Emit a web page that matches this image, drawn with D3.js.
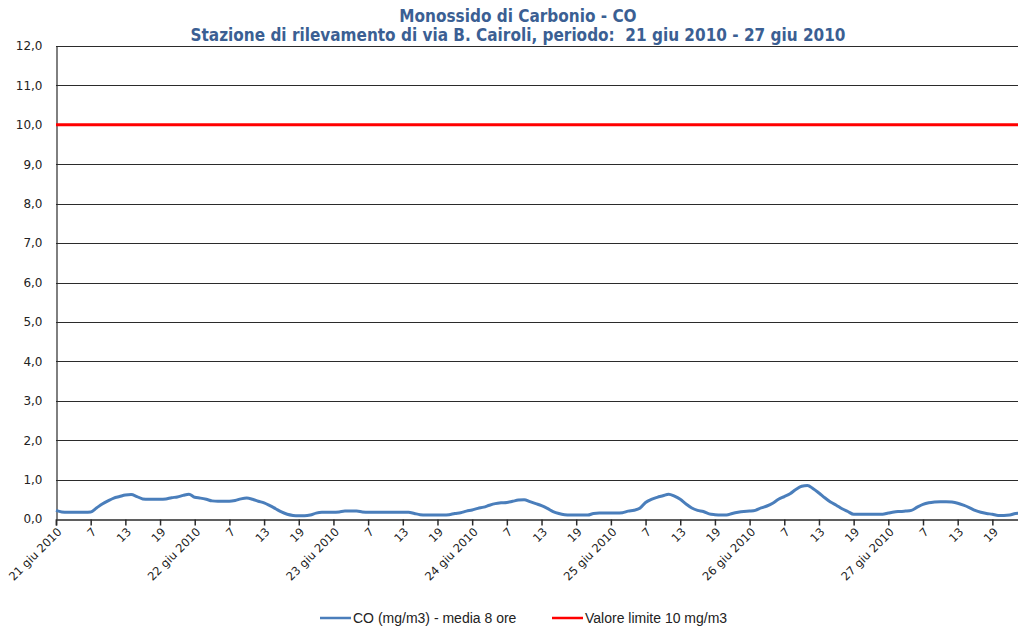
<!DOCTYPE html>
<html>
<head>
<meta charset="utf-8">
<script src="https://cdn.jsdelivr.net/npm/d3@7"></script>
<style>
  body { margin: 0; background: #fff; }
  svg { display: block; }
</style>
</head>
<body>
<div id="main"></div>
<script>
// titolo
const titleLines = ['Monossido di Carbonio - CO',
  'Stazione di rilevamento di via B. Cairoli, periodo:  21 giu 2010 - 27 giu 2010'];

// media mobile 8 ore, un valore per ora (h1 = 21 giu ore 1)
const coValues = [
  0.22, 0.18, 0.17, 0.17, 0.17, 0.17, 0.18, 0.28, 0.38, 0.46, 0.53, 0.57,
  0.61, 0.62, 0.57, 0.51, 0.50, 0.50, 0.50, 0.51, 0.54, 0.56, 0.60, 0.63,
  0.55, 0.53, 0.50, 0.46, 0.45, 0.45, 0.45, 0.47, 0.51, 0.53, 0.50, 0.45,
  0.41, 0.34, 0.26, 0.18, 0.12, 0.09, 0.08, 0.08, 0.10, 0.15, 0.17, 0.17,
  0.17, 0.18, 0.20, 0.20, 0.20, 0.18, 0.17, 0.17, 0.17, 0.17, 0.17, 0.17,
  0.17, 0.17, 0.14, 0.11, 0.10, 0.10, 0.10, 0.10, 0.11, 0.14, 0.16, 0.20,
  0.23, 0.27, 0.30, 0.35, 0.39, 0.41, 0.42, 0.45, 0.48, 0.49, 0.44, 0.39,
  0.34, 0.27, 0.19, 0.14, 0.11, 0.10, 0.10, 0.10, 0.10, 0.14, 0.15, 0.15,
  0.15, 0.15, 0.16, 0.20, 0.22, 0.27, 0.42, 0.50, 0.55, 0.59, 0.63, 0.58,
  0.50, 0.38, 0.28, 0.22, 0.19, 0.13, 0.11, 0.10, 0.10, 0.14, 0.17, 0.19,
  0.20, 0.22, 0.28, 0.33, 0.40, 0.50, 0.57, 0.64, 0.75, 0.83, 0.85, 0.77,
  0.66, 0.54, 0.43, 0.35, 0.26, 0.19, 0.12, 0.12, 0.12, 0.12, 0.12, 0.12,
  0.15, 0.18, 0.19, 0.20, 0.22, 0.30, 0.37, 0.41, 0.43, 0.44, 0.44, 0.43,
  0.40, 0.35, 0.29, 0.22, 0.17, 0.14, 0.12, 0.09, 0.09, 0.10, 0.14, 0.15
];
const limitValue = 10;
const dayLabels = ['21 giu 2010', '22 giu 2010', '23 giu 2010', '24 giu 2010',
  '25 giu 2010', '26 giu 2010', '27 giu 2010'];
const hourLabels = ['', '7', '13', '19'];
const yTicks = [0, 1, 2, 3, 4, 5, 6, 7, 8, 9, 10, 11, 12];
const legendItems = [
  { label: 'CO (mg/m3) - media 8 ore', color: '#4a7ebb' },
  { label: 'Valore limite 10 mg/m3', color: '#ff0000' }
];

const width = 1018, height = 629;
const margin = { top: 46, left: 56, bottom: 110 };
const hourPx = 5.78;

const svg = d3.select('#main').append('svg')
  .attr('width', width)
  .attr('height', height);

const x = d3.scaleLinear()
  .domain([1, 169])
  .range([margin.left, margin.left + 168 * hourPx]);

const y = d3.scaleLinear()
  .domain([0, 12])
  .range([519, margin.top]);

// title
svg.append('g').selectAll('text')
  .data(titleLines)
  .enter().append('text')
  .attr('x', 518)
  .attr('y', (d, i) => 22 + i * 19)
  .attr('text-anchor', 'middle')
  .style('white-space', 'pre')
  .style('font-family', '"Liberation Sans Narrow", "DejaVu Sans Condensed", sans-serif')
  .style('font-weight', 'bold')
  .style('font-size', '17px')
  .style('fill', '#3b5f93')
  .text(d => d);

// grid
svg.append('g').selectAll('line')
  .data(yTicks.filter(d => d > 0))
  .enter().append('line')
  .attr('x1', margin.left)
  .attr('x2', width)
  .attr('y1', d => Math.round(y(d)) + 0.5)
  .attr('y2', d => Math.round(y(d)) + 0.5)
  .attr('stroke', '#2b2b2b')
  .attr('stroke-width', 1.2);

// y axis
const yAxis = svg.append('g')
  .attr('transform', `translate(${margin.left + 0.5},0)`)
  .call(d3.axisLeft(y).tickValues(yTicks).tickSize(0).tickPadding(14)
    .tickFormat(d => d3.format('.1f')(d).replace('.', ',')));
yAxis.select('.domain').attr('stroke', '#2b2b2b').attr('stroke-width', 1.2);
yAxis.selectAll('text')
  .style('font-family', '"DejaVu Sans", Verdana, sans-serif')
  .style('font-size', '12px')
  .style('fill', '#222');

// x axis
const tickHours = d3.range(1, 169, 6);
const xAxis = svg.append('g')
  .attr('transform', 'translate(0,519.5)')
  .call(d3.axisBottom(x).tickValues(tickHours).tickSizeOuter(0).tickSize(6)
    .tickFormat(h => {
      const idx = (h - 1) / 6;
      return idx % 4 === 0 ? dayLabels[idx / 4] : hourLabels[idx % 4];
    }));
xAxis.select('.domain').attr('stroke', '#2b2b2b').attr('stroke-width', 1.5);
xAxis.selectAll('.tick line').attr('stroke', '#2b2b2b').attr('stroke-width', 1.5);
xAxis.selectAll('text')
  .attr('text-anchor', 'end')
  .attr('x', -5)
  .attr('y', 10)
  .attr('dy', '0.3em')
  .attr('transform', 'rotate(-45)')
  .style('font-family', '"DejaVu Sans", Verdana, sans-serif')
  .style('font-size', '11.5px')
  .style('fill', '#222');

// limit line
svg.append('line')
  .attr('x1', margin.left)
  .attr('x2', width)
  .attr('y1', y(limitValue))
  .attr('y2', y(limitValue))
  .attr('stroke', '#ff0000')
  .attr('stroke-width', 3);

// CO line
const line = d3.line()
  .x((d, i) => x(i + 1))
  .y(d => y(d))
  .curve(d3.curveMonotoneX);

svg.append('path')
  .datum(coValues)
  .attr('d', line)
  .attr('fill', 'none')
  .attr('stroke', '#4a7ebb')
  .attr('stroke-width', 3)
  .attr('stroke-linejoin', 'round');

// legend
const legend = svg.append('g').attr('transform', 'translate(0,618)');
const legX = [320, 552];
legendItems.forEach((item, i) => {
  const g = legend.append('g').attr('transform', `translate(${legX[i]},0)`);
  g.append('line')
    .attr('x1', 0).attr('x2', 31)
    .attr('stroke', item.color)
    .attr('stroke-width', 2.5);
  g.append('text')
    .attr('x', 33)
    .attr('dy', '0.35em')
    .style('font-family', '"Liberation Sans", Arial, sans-serif')
    .style('font-size', '14px')
    .style('fill', '#222')
    .text(item.label);
});
</script>
</body>
</html>
